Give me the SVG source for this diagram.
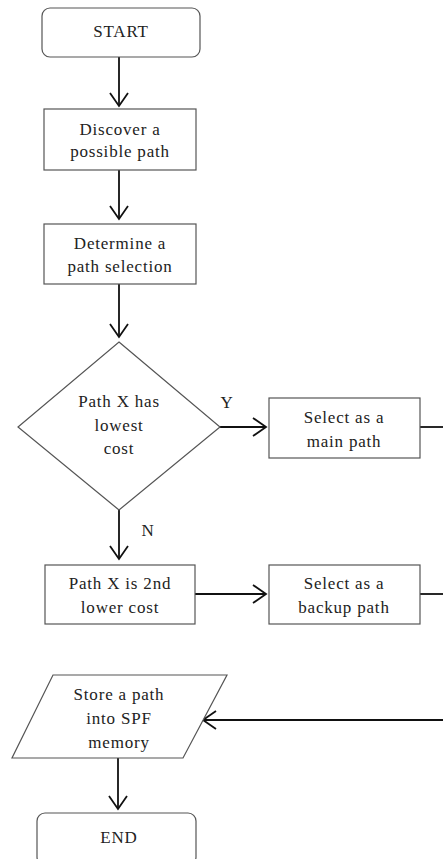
<svg xmlns="http://www.w3.org/2000/svg" width="443" height="859" viewBox="0 0 443 859">
<style>
.box{fill:#fff;stroke:#555;stroke-width:1.2}
.t{font-family:"Liberation Serif","Times New Roman",serif;font-size:17px;fill:#222;text-anchor:middle;letter-spacing:0.8px}
.c{fill:none;stroke:#111;stroke-width:1.8}
</style>
<defs>
<marker id="ah" viewBox="-15 -11 17 22" markerWidth="17" markerHeight="22" refX="0" refY="0" orient="auto" markerUnits="userSpaceOnUse">
<path d="M-13,-9 L0,0 L-13,9" fill="none" stroke="#111" stroke-width="1.8"/>
</marker>
</defs>
<rect width="443" height="859" fill="#fff"/>
<g id="connectors">
<line class="c" x1="119" y1="57" x2="119" y2="106" marker-end="url(#ah)"/>
<line class="c" x1="119" y1="170" x2="119" y2="219" marker-end="url(#ah)"/>
<line class="c" x1="119" y1="284" x2="119" y2="337" marker-end="url(#ah)"/>
<line class="c" x1="220" y1="427" x2="266" y2="427" marker-end="url(#ah)"/>
<line class="c" x1="420" y1="427" x2="443" y2="427"/>
<line class="c" x1="119" y1="510" x2="119" y2="559" marker-end="url(#ah)"/>
<line class="c" x1="195" y1="594" x2="266" y2="594" marker-end="url(#ah)"/>
<line class="c" x1="420" y1="594" x2="443" y2="594"/>
<line class="c" x1="443" y1="720" x2="203" y2="720" marker-end="url(#ah)"/>
<line class="c" x1="118" y1="758" x2="118" y2="809" marker-end="url(#ah)"/>
<text class="t" x="227" y="408">Y</text>
<text class="t" x="148" y="536">N</text>
</g>
<g id="start">
<rect class="box" x="42" y="8" width="158" height="49" rx="8"/>
<text class="t" x="121" y="37">START</text>
</g>
<g id="discover">
<rect class="box" x="44" y="109" width="152" height="61"/>
<text class="t" x="120" y="135">Discover a</text>
<text class="t" x="120" y="157">possible path</text>
</g>
<g id="determine">
<rect class="box" x="44" y="224" width="152" height="60"/>
<text class="t" x="120" y="249">Determine a</text>
<text class="t" x="120" y="272">path selection</text>
</g>
<g id="decision">
<polygon class="box" points="119,342 220,427 119,510 18,427"/>
<text class="t" x="119" y="407">Path X has</text>
<text class="t" x="119" y="431">lowest</text>
<text class="t" x="119" y="454">cost</text>
</g>
<g id="main">
<rect class="box" x="269" y="398" width="151" height="60"/>
<text class="t" x="344" y="423">Select as a</text>
<text class="t" x="344" y="447">main path</text>
</g>
<g id="second">
<rect class="box" x="45" y="565" width="150" height="59"/>
<text class="t" x="120" y="589">Path X is 2nd</text>
<text class="t" x="120" y="613">lower cost</text>
</g>
<g id="backup">
<rect class="box" x="269" y="565" width="151" height="59"/>
<text class="t" x="344" y="589">Select as a</text>
<text class="t" x="344" y="613">backup path</text>
</g>
<g id="store">
<polygon class="box" points="53,675 227,675 183,758 12,758"/>
<text class="t" x="119" y="700">Store a path</text>
<text class="t" x="119" y="724">into SPF</text>
<text class="t" x="119" y="748">memory</text>
</g>
<g id="end">
<rect class="box" x="37" y="813" width="159" height="52" rx="8"/>
<text class="t" x="119" y="843">END</text>
</g>
</svg>
